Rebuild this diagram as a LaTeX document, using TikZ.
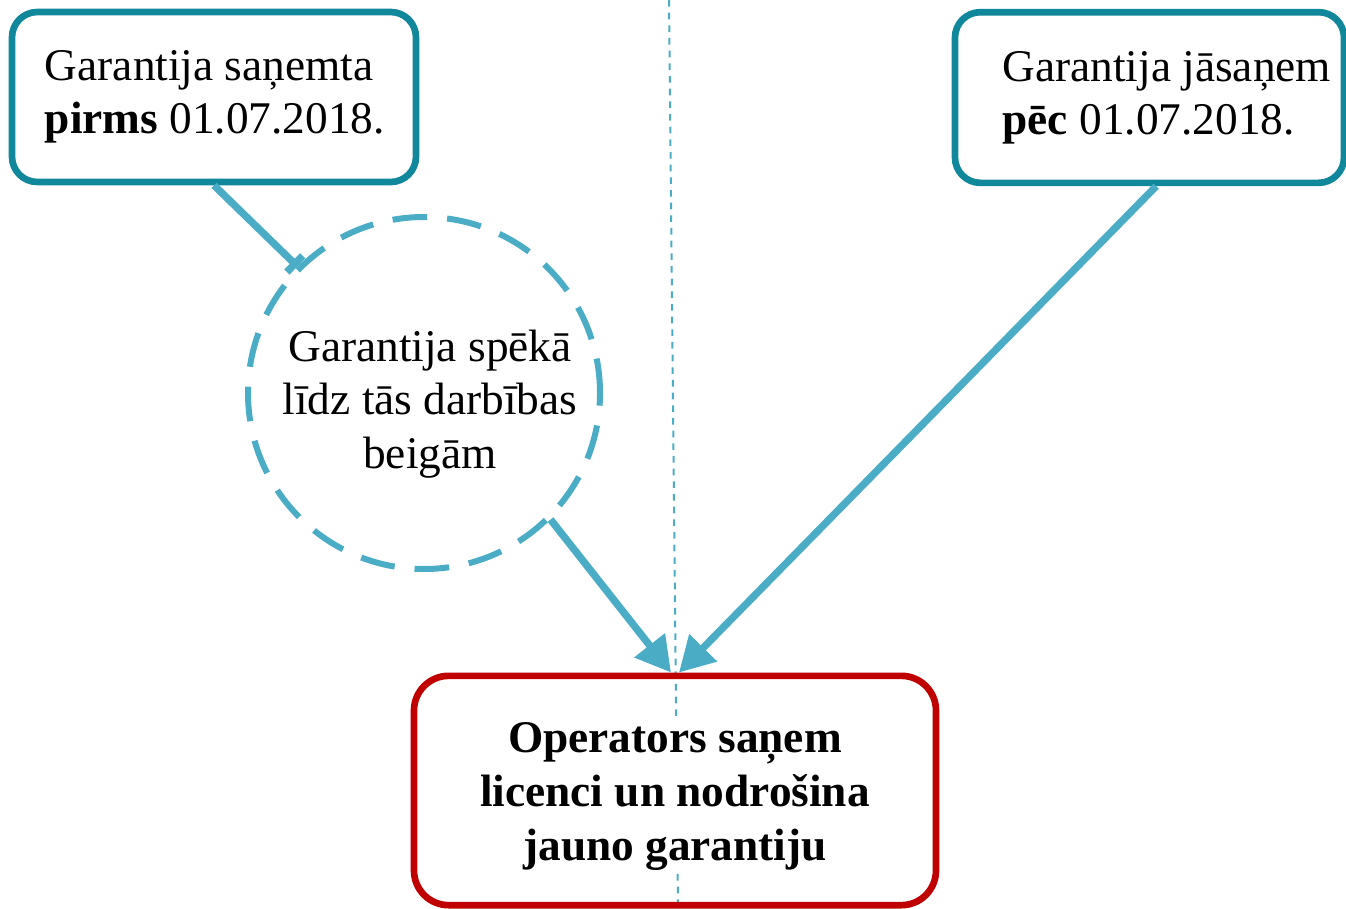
\documentclass[tikz,border=0pt]{standalone}
\usepackage{fontspec}
\setmainfont{Liberation Serif}
\usetikzlibrary{arrows.meta}
\definecolor{boxteal}{HTML}{10879A}
\definecolor{linkblue}{HTML}{4BACC6}
\definecolor{boxred}{HTML}{C00000}
\tikzset{
  tealbox/.style={draw=boxteal,line width=5pt,rounded corners=19pt},
  redbox/.style={draw=boxred,line width=5pt,rounded corners=26pt},
  dashcircle/.style={circle,draw=linkblue,line width=4.5pt,dash pattern=on 26pt off 15pt,minimum size=264pt},
  boxtext/.style={align=left,inner sep=0pt,font=\fontsize{34}{39.5}\selectfont},
  link/.style={draw=linkblue,line width=5.5pt},
  guide/.style={draw=linkblue,line width=1.5pt,dash pattern=on 5pt off 4.5pt},
}

\begin{document}
\begin{tikzpicture}[x=0.75pt,y=-0.75pt]
  \useasboundingbox (0,0) rectangle (1346,908);

  % vertical guide
  \coordinate (gtop) at (669,0);
  \coordinate (gbot) at (678,908);
  \draw[guide] (gtop) -- (gbot);

  \node[tealbox,minimum width=303pt,minimum height=127.5pt] (b1) at (214,97) {};
  \node[boxtext,anchor=west] (t1) at ([xshift=27pt]b1.west) {Garantija saņemta\\\textbf{pirms} 01.07.2018.};

  \node[tealbox,minimum width=291.75pt,minimum height=128pt] (b2) at (1149.5,97.5) {};
  \node[boxtext,anchor=west] (t2) at ([xshift=38pt]b2.west) {Garantija jāsaņem\\\textbf{pēc} 01.07.2018.};

  \node[dashcircle] (c) at (424,393) {};
  \node[boxtext,align=center,font=\fontsize{34}{40}\selectfont] (ct) at (430,404) {Garantija spēkā\\līdz tās darbības\\beigām};

  \node[redbox,minimum width=391.5pt,minimum height=172pt] (b3) at (675,790.5) {};
  \node[boxtext,align=center,fill=white,inner sep=2pt,font=\fontsize{34}{40.5}\selectfont\bfseries] (t3) at ([yshift=-4.5pt]b3.center) {Operators saņem\\licenci un nodrošina\\jauno garantiju};

  % connectors
  \draw[link,-{Bar[width=17pt]}] (b1.south) -- (c.135);
  \draw[link,-{Triangle[length=26pt,width=28pt]}] (c.-45) -- ([xshift=-3pt]b3.north);
  \draw[link,-{Triangle[length=26pt,width=28pt]}] ([xshift=5pt]b2.south) -- ([xshift=3pt]b3.north);
\end{tikzpicture}
\end{document}
